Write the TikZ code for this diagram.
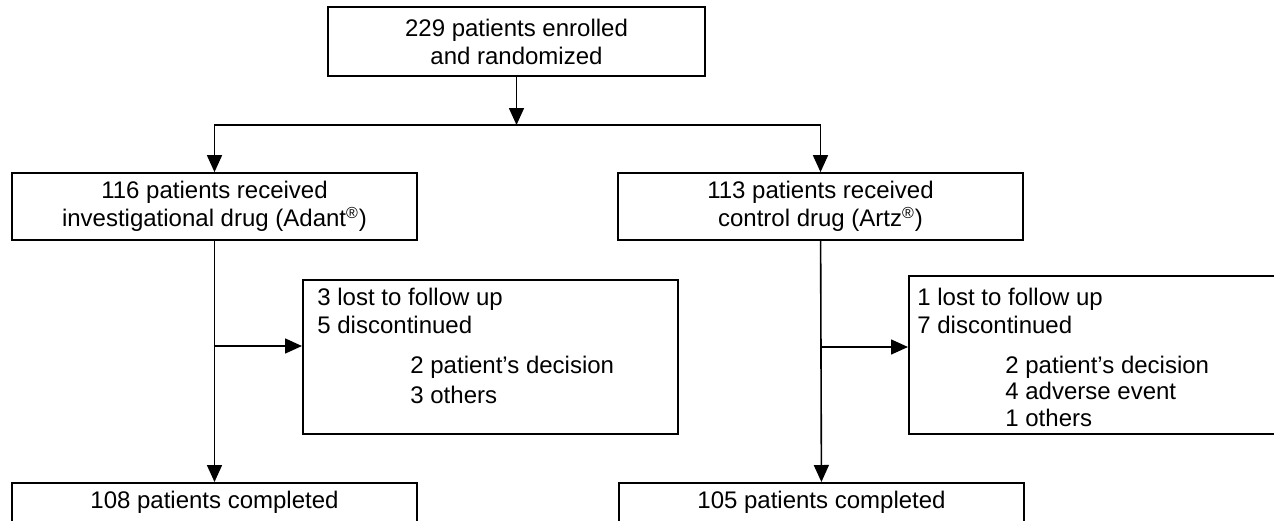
\documentclass[tikz,border=0pt]{standalone}
\usepackage{fontspec}
\setmainfont{Liberation Sans}
\usetikzlibrary{arrows.meta}

\begin{document}
\begin{tikzpicture}[x=0.5pt, y=-0.5pt,
    box/.style={draw, line width=0.85pt, inner sep=0pt, align=center,
      font=\fontsize{12}{14}\selectfont},
    note/.style={inner sep=0pt, align=left, anchor=north west,
      font=\fontsize{12}{14}\selectfont},
    link/.style={line width=0.8pt, -{Triangle[length=8.5pt,width=7.5pt]}}]
  \useasboundingbox (0,0) rectangle (1274,520);
  \clip (0,0) rectangle (1274,520);

  % enrolment and the two arms
  \node[box, minimum width=188.5pt, minimum height=34.5pt] (enrol) at (516.5,41.5)
    {229 patients enrolled\\and randomized};
  \node[box, minimum width=202.5pt, minimum height=33.5pt] (armA) at (214.5,206.5)
    {116 patients received\\investigational drug (Adant\textsuperscript{®})};
  \node[box, minimum width=202.5pt, minimum height=33.5pt] (armB) at (820.5,206.5)
    {113 patients received\\control drug (Artz\textsuperscript{®})};

  % completed
  \node[box, anchor=north, minimum width=202.5pt, inner ysep=4pt,
    text height=8.75pt, text depth=8pt] (doneA) at (214.5,482) {108 patients completed};
  \node[box, anchor=north, minimum width=202.5pt, inner ysep=4pt,
    text height=8.75pt, text depth=8pt] (doneB) at (821.5,482) {105 patients completed};

  % drop-outs
  \node[box, anchor=north west, minimum width=187.5pt, minimum height=77pt] (lossA) at (302,279) {};
  \node[note] (lossAtext) at (317,287.5)
    {3 lost to follow up\\5 discontinued\\[6pt]\hspace*{46.5pt}2 patient’s decision\\[1pt]\hspace*{46.5pt}3 others};
  \node[box, anchor=north west, minimum width=200pt, minimum height=79pt] (lossB) at (908,275) {};
  \node[note] (lossBtext) at (917,287.5)
    {1 lost to follow up\\7 discontinued\\[6pt]\hspace*{44pt}2 patient’s decision\\[-1pt]\hspace*{44pt}4 adverse event\\[-0.5pt]\hspace*{44pt}1 others};

  % connectors
  \coordinate (fork) at (516.5,125);
  \coordinate (forkA) at (armA.north |- fork);
  \coordinate (forkB) at (armB.north |- fork);
  \draw[link] (enrol) -- (fork);
  \draw[line width=0.8pt, line cap=rect] (forkA) -- (forkB);
  \draw[link] (forkA) -- (armA);
  \draw[link] (forkB) -- (armB);
  \draw[link] (armA) -- (doneA);
  \draw[link] (armB) -- (doneB);
  \coordinate (stemA) at (214.5,346);
  \coordinate (stemB) at (820.5,347);
  \draw[link] (stemA) -- (stemA -| lossA.west);
  \draw[link] (stemB) -- (stemB -| lossB.west);
\end{tikzpicture}
\end{document}
